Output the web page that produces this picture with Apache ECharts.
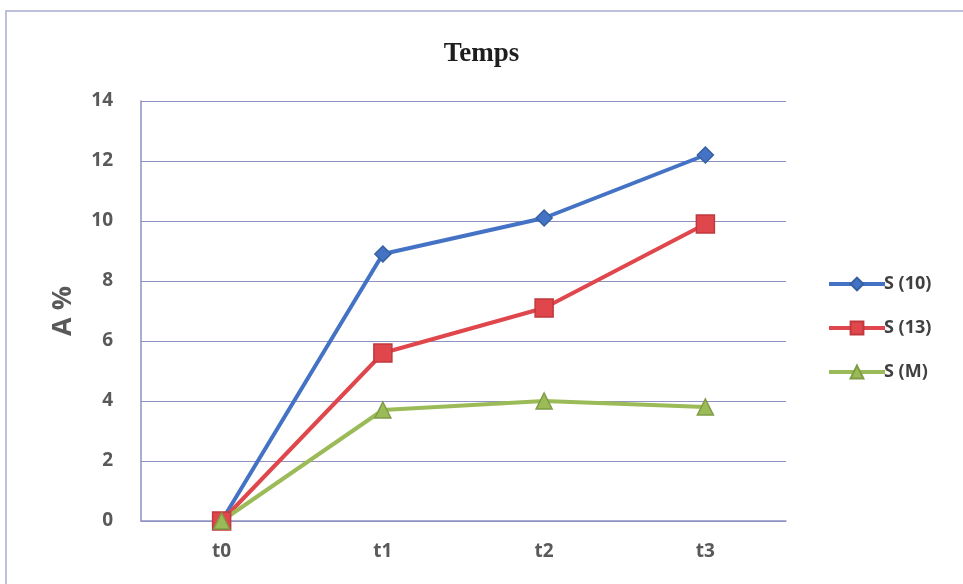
<!DOCTYPE html>
<html>
<head>
<meta charset="utf-8">
<script src="https://cdn.jsdelivr.net/npm/echarts@6/dist/echarts.min.js"></script>
<style>
html, body { margin: 0; padding: 0; background: #fff; }
#chart { width: 963px; height: 584px; }
</style>
</head>
<body>
<div id="chart"></div>
<script>
// Sampling times and measured A % for each sample
const categories = ['t0', 't1', 't2', 't3'];
const s10 = [0, 8.9, 10.1, 12.2];
const s13 = [0, 5.6, 7.1, 9.9];
const sM = [0, 3.7, 4.0, 3.8];

const gridColor = '#8e92c2';
const labelColor = '#595959';
const labelFont = '"Open Sans", "Liberation Sans", sans-serif';

const chart = echarts.init(document.getElementById('chart'), null, { renderer: 'canvas' });

function lineSeries(name, data, color, border, symbol, size) {
  return {
    name: name,
    type: 'line',
    data: data,
    symbol: symbol,
    symbolSize: size,
    showAllSymbol: true,
    lineStyle: { color: color, width: 4 },
    itemStyle: { color: color, borderColor: border, borderWidth: 1.5 },
    emphasis: { disabled: true },
    z: 3
  };
}

chart.setOption({
  animation: false,
  backgroundColor: '#ffffff',
  graphic: [{
    type: 'rect',
    shape: { x: 6, y: 11, width: 1000, height: 600 },
    style: { fill: 'none', stroke: '#a7acd0', lineWidth: 1.5 },
    silent: true
  }],
  title: {
    text: 'Temps',
    left: 'center',
    top: 36,
    textStyle: {
      fontFamily: '"Liberation Serif", "DejaVu Serif", serif',
      fontWeight: 'bold',
      fontSize: 27,
      color: '#1e1e1e'
    }
  },
  legend: {
    orient: 'vertical',
    left: 822,
    top: 270,
    itemWidth: 56,
    itemHeight: 16,
    itemGap: 26,
    lineStyle: { width: 4 },
    textStyle: {
      fontFamily: labelFont,
      fontWeight: 'bold',
      fontSize: 18,
      color: '#404040',
      padding: [0, 0, 0, -6]
    },
    data: ['S (10)', 'S (13)', 'S (M)']
  },
  grid: { left: 141, right: 177, top: 101, bottom: 63 },
  xAxis: {
    type: 'category',
    data: categories,
    boundaryGap: true,
    axisLine: { show: true, lineStyle: { color: gridColor, width: 1.5 } },
    axisTick: { show: false },
    axisLabel: {
      margin: 21,
      fontFamily: labelFont,
      fontWeight: 'bold',
      fontSize: 19,
      color: labelColor
    }
  },
  yAxis: {
    type: 'value',
    min: 0,
    max: 14,
    interval: 2,
    name: 'A %',
    nameLocation: 'middle',
    nameGap: 64,
    nameRotate: 90,
    nameTextStyle: {
      fontFamily: labelFont,
      fontWeight: 'bold',
      fontSize: 27,
      color: labelColor
    },
    axisLine: { show: true, lineStyle: { color: gridColor, width: 1.5 } },
    axisTick: { show: false },
    splitLine: { show: true, lineStyle: { color: gridColor, width: 1.2 } },
    axisLabel: {
      margin: 28,
      fontFamily: labelFont,
      fontWeight: 'bold',
      fontSize: 19,
      color: labelColor
    }
  },
  series: [
    lineSeries('S (10)', s10, '#4472c4', '#36609f', 'diamond', 16),
    lineSeries('S (13)', s13, '#e0474c', '#c0393d', 'rect', 18),
    lineSeries('S (M)', sM, '#9bbb59', '#7f9c44', 'triangle', 16)
  ]
});
</script>
</body>
</html>
